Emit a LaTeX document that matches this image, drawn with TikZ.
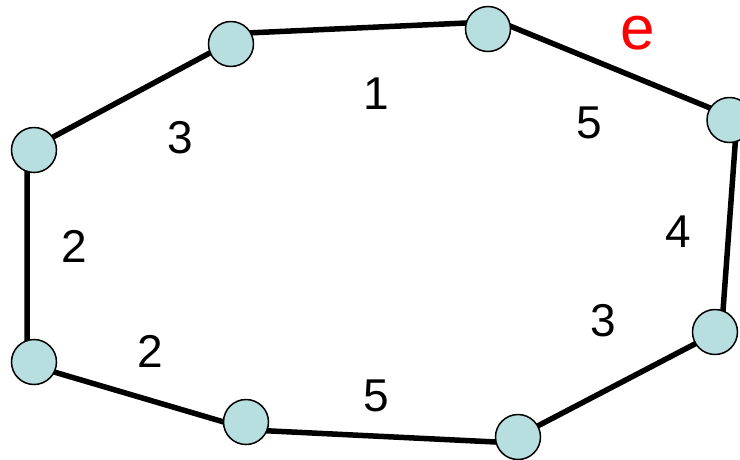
\documentclass[tikz,border=0pt]{standalone}
\usepackage{fontspec}
\setmainfont{Liberation Sans}
\definecolor{nodefill}{HTML}{B8DFE0}
\tikzset{
  vtx/.style={circle, draw=black, line width=1.5pt, fill=nodefill, minimum size=45pt, inner sep=0pt},
  edge/.style={draw=black, line width=5.5pt, line join=miter},
  wlabel/.style={font=\fontsize{46}{46}\selectfont, inner sep=0pt},
  elabel/.style={font=\fontsize{62}{62}\selectfont, text=red, inner sep=0pt}
}
\begin{document}
\begin{tikzpicture}[x=1pt,y=-1pt]
\useasboundingbox (0,0) rectangle (740,459);
\clip (0,0) rectangle (740,459);
% polygon corners
\coordinate (vA) at (27,151);
\coordinate (vB) at (247,33);
\coordinate (vC) at (499,21.5);
\coordinate (vD) at (737,119);
\coordinate (vE) at (721.6,330);
\coordinate (vF) at (506,442.5);
\coordinate (vG) at (251,430);
\coordinate (vH) at (27,364);
\draw[edge] (vA) -- (vB) -- (vC) -- (vD) -- (vE) -- (vF) -- (vG) -- (vH) -- cycle;
\node[vtx] (A) at (34,150) {};
\node[vtx] (B) at (231,44) {};
\node[vtx] (C) at (488,29) {};
\node[vtx] (D) at (729.5,120) {};
\node[vtx] (E) at (715,332) {};
\node[vtx] (F) at (518,437) {};
\node[vtx] (G) at (246,422) {};
\node[vtx] (H) at (34,362) {};
\node[wlabel] (l1) at (180,138) {3};
\node[wlabel] (l2) at (376,94) {1};
\node[wlabel] (l3) at (589,123) {5};
\node[elabel] (le) at (638,33) {e};
\node[wlabel] (l4) at (678,232) {4};
\node[wlabel] (l5) at (603,321) {3};
\node[wlabel] (l6) at (376,396) {5};
\node[wlabel] (l7) at (150,351) {2};
\node[wlabel] (l8) at (74,246) {2};
\end{tikzpicture}
\end{document}
